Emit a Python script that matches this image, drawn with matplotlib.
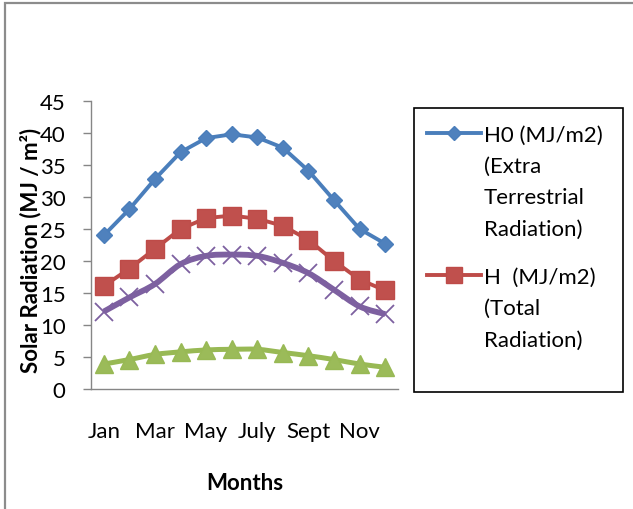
import numpy as np
import matplotlib
matplotlib.use("Agg")
import matplotlib.pyplot as plt
from matplotlib.path import Path
from matplotlib.patches import PathPatch, Rectangle
from matplotlib.lines import Line2D

# ---------------- data ----------------
months = ['Jan', 'Feb', 'Mar', 'Apr', 'May', 'June', 'July', 'Aug', 'Sept', 'Oct', 'Nov', 'Dec']
h0_extra = [24.0, 28.1, 32.8, 37.0, 39.2, 39.8, 39.3, 37.7, 34.1, 29.5, 25.0, 22.7]
h_total = [16.1, 18.8, 21.9, 25.0, 26.7, 27.1, 26.6, 25.5, 23.3, 20.0, 17.1, 15.4]
series3 = [12.1, 14.3, 16.4, 19.5, 20.8, 21.0, 20.8, 19.7, 18.1, 15.5, 12.9, 11.7]
series4 = [3.9, 4.6, 5.4, 5.8, 6.1, 6.2, 6.2, 5.7, 5.2, 4.6, 3.9, 3.4]
legend_labels = ['H0 (MJ/m2)\n(Extra\nTerrestrial\nRadiation)',
                 'H  (MJ/m2)\n(Total\nRadiation)']
y_ticks = [0, 5, 10, 15, 20, 25, 30, 35, 40, 45]

FONT = 'Lato'
FS = 16
plt.rcParams['font.family'] = [FONT, 'DejaVu Sans']

W, H = 633, 510
fig = plt.figure(figsize=(W / 100, H / 100), dpi=100)
fig.patch.set_facecolor('white')


def fx(px):
    return px / W


def fy(py):
    return 1 - py / H


ax_l, ax_r, ax_t, ax_b = 91, 398, 102, 390
ax = fig.add_axes([fx(ax_l), fy(ax_b), (ax_r - ax_l) / W, (ax_b - ax_t) / H])

x = np.arange(len(months))


def smooth_path(xs, ys):
    pts = np.column_stack([xs, ys]).astype(float)
    verts = [pts[0]]
    codes = [Path.MOVETO]
    n = len(pts)
    for i in range(n - 1):
        p0 = pts[i - 1] if i > 0 else pts[i]
        p1 = pts[i]
        p2 = pts[i + 1]
        p3 = pts[i + 2] if i + 2 < n else pts[i + 1]
        c1 = p1 + (p2 - p0) / 6.0
        c2 = p2 - (p3 - p1) / 6.0
        verts += [c1, c2, p2]
        codes += [Path.CURVE4] * 3
    return Path(verts, codes)


blue_l, blue_f = '#4A7EBB', '#4F81BD'
red_l, red_f = '#BE4B48', '#C0504D'
pur_l = '#7D60A0'
grn_l, grn_f = '#98B954', '#9BBB59'

# series 4 (green, smoothed)
ax.add_patch(PathPatch(smooth_path(x, series4), fill=False, edgecolor=grn_l, lw=3.6, zorder=2))
ax.plot(x, series4, ls='none', marker='^', ms=13, mfc=grn_f, mec=grn_l, mew=1, zorder=3)

# series 3 (purple, smoothed)
ax.add_patch(PathPatch(smooth_path(x, series3), fill=False, edgecolor=pur_l, lw=4.2, zorder=2))
ax.plot(x, series3, ls='none', marker='x', ms=13, mec=pur_l, mew=1.3, zorder=3)

# H total (red)
ax.plot(x, h_total, color=red_l, lw=2.8, marker='s', ms=12.5, mfc=red_f, mec=red_l, mew=1, zorder=4)

# H0 (blue)
ax.plot(x, h0_extra, color=blue_l, lw=2.8, marker='D', ms=8.6, mfc=blue_f, mec=blue_l, mew=1, zorder=5)

ax.set_xlim(-0.5, len(months) - 0.5)
ax.set_ylim(0, 45)
ax.set_yticks(y_ticks)
ax.set_yticklabels([str(v) for v in y_ticks])
ax.set_xticks(x[::2])
ax.set_xticklabels(months[::2])

gray = '#868686'
for s in ['top', 'right']:
    ax.spines[s].set_visible(False)
for s in ['left', 'bottom']:
    ax.spines[s].set_color(gray)
    ax.spines[s].set_linewidth(1.0)
ax.tick_params(axis='y', direction='out', length=5.8, width=1.0, color=gray,
               pad=12.5, labelsize=FS, labelcolor='black')
ax.tick_params(axis='x', length=0, pad=23, labelsize=FS, labelcolor='black')

ax.set_xlabel('Months', fontsize=FS, fontweight='bold')
ax.xaxis.label.set_va('baseline')
ax.xaxis.set_label_coords((245 - ax_l) / (ax_r - ax_l), (ax_b - 490) / (ax_b - ax_t))
ax.set_ylabel('Solar Radiation (MJ / m\u00b2)', fontsize=FS, fontweight='bold')
ax.yaxis.label.set_va('center')
ax.yaxis.set_label_coords((31 - ax_l) / (ax_r - ax_l), (ax_b - 250) / (ax_b - ax_t))

# ---------------- legend (manual, as in the reference) ----------------
fig.add_artist(Rectangle((fx(414), fy(393)), (623 - 414) / W, (393 - 109) / H,
                         transform=fig.transFigure, fill=False, edgecolor='black', lw=1.2))
handles = [dict(color=blue_l, marker='D', ms=7.5, mfc=blue_f, mec=blue_l, lw=2.8),
           dict(color=red_l, marker='s', ms=12, mfc=red_f, mec=red_l, lw=2.8)]
entry_baselines = [141.5, 283.5]
line_step = 31.5
for lab, hd, base in zip(legend_labels, handles, entry_baselines):
    yc = base - 8
    fig.add_artist(Line2D([fx(427), fx(481)], [fy(yc), fy(yc)], transform=fig.transFigure,
                          color=hd['color'], lw=hd['lw']))
    fig.add_artist(Line2D([fx(454)], [fy(yc)], transform=fig.transFigure, ls='none',
                          marker=hd['marker'], ms=hd['ms'], mfc=hd['mfc'], mec=hd['mec'], mew=1))
    for k, line in enumerate(lab.split('\n')):
        fig.text(fx(484), fy(base + k * line_step), line, fontsize=FS, ha='left', va='baseline')

# outer chart frame (top and left edges visible)
fig.add_artist(Rectangle((fx(5), -0.2), 1.2, fy(3.5) + 0.2, transform=fig.transFigure,
                         fill=False, edgecolor='#8C8C8C', lw=1.6))

fig.savefig('out.png', dpi=100, facecolor='white')
